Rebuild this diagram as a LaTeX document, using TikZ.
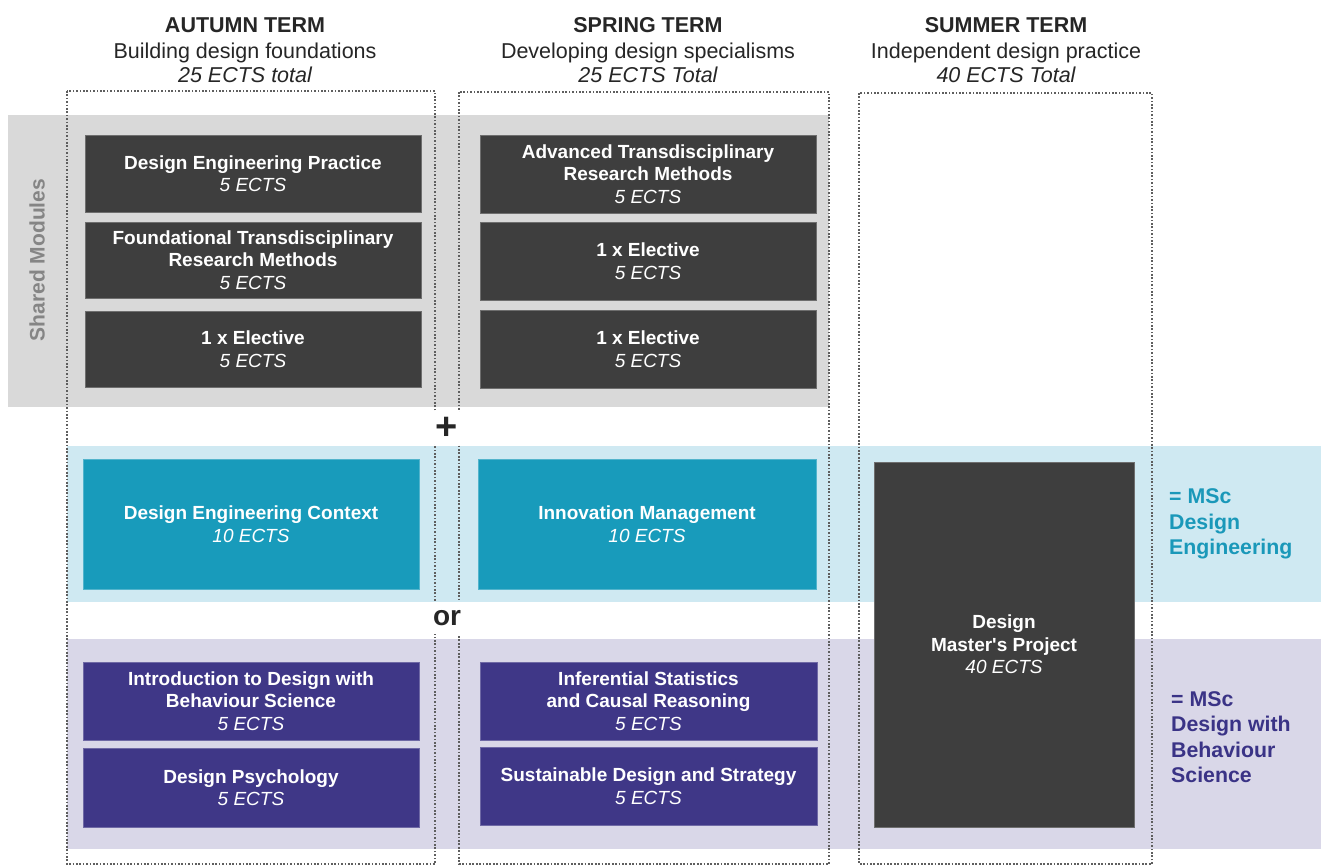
\documentclass[tikz,border=0pt]{standalone}
\usepackage{fontspec}
\setmainfont{Liberation Sans}
\definecolor{dk}{HTML}{3E3E3E}
\definecolor{grayband}{HTML}{D9D9D9}
\definecolor{teal}{HTML}{189BBB}
\definecolor{blueband}{HTML}{CFE9F2}
\definecolor{purp}{HTML}{3F3787}
\definecolor{purpband}{HTML}{D9D7E8}
\definecolor{dotc}{HTML}{5E5E5E}
\definecolor{hd}{HTML}{262626}
\definecolor{sharedc}{HTML}{858585}
\definecolor{tealtxt}{HTML}{1A98B9}
\definecolor{purptxt}{HTML}{3A3386}
\newcommand\ectsl[1]{{\mdseries\itshape #1}}
\begin{document}
\begin{tikzpicture}[x=1pt,y=-1pt,
  dotframe/.style={draw=dotc, line width=2pt, dash pattern=on 1.7pt off 1.7pt},
  module/.style={inner sep=0pt, align=center, text=white, draw=#1!75!white, line width=0.8pt, fill=#1,
    font=\fontsize{19}{22.5}\selectfont\bfseries},
  band/.style={fill=#1, draw=none},
  headA/.style={anchor=base, text=hd, font=\fontsize{21.5}{25}\selectfont\bfseries},
  headB/.style={anchor=base, text=hd, font=\fontsize{21.5}{25}\selectfont},
  headC/.style={anchor=base, text=hd, font=\fontsize{21.5}{25}\selectfont\itshape},
  joiner/.style={fill=white, inner sep=0pt, minimum width=36pt, minimum height=32pt, text=hd},
  degree/.style={anchor=west, align=left, inner sep=0pt, font=\fontsize{21.3}{25.5}\selectfont\bfseries}
]
\useasboundingbox (0,0) rectangle (1321,866);
\fill[white] (0,0) rectangle (1321,866);

% bands
\path[band=grayband] (8,115) rectangle (829,407);
\path[band=blueband] (67,446) rectangle (1321,602);
\path[band=purpband] (67,639) rectangle (1321,849);

% term frames
\draw[dotframe] (67,91) rectangle (435,864);
\draw[dotframe] (459,92) rectangle (829,864);
\draw[dotframe] (859,93) rectangle (1152,864);

% headers
\node[headA] (ha1) at (245,33) {AUTUMN TERM};
\node[headB] (ha2) at (245,59) {Building design foundations};
\node[headC] (ha3) at (245,83) {25 ECTS total};
\node[headA] (hs1) at (648,33) {SPRING TERM};
\node[headB] (hs2) at (648,59) {Developing design specialisms};
\node[headC] (hs3) at (648,83) {25 ECTS Total};
\node[headA] (hu1) at (1006,33) {SUMMER TERM};
\node[headB] (hu2) at (1006,59) {Independent design practice};
\node[headC] (hu3) at (1006,83) {40 ECTS Total};

% shared label
\node[rotate=90, text=sharedc, font=\fontsize{21}{24}\selectfont\bfseries] (shared) at (37,260) {Shared Modules};

% autumn shared modules
\node[module=dk, minimum width=336pt, minimum height=77pt] (a1) at (253,173.5)
  {Design Engineering Practice\\\ectsl{5 ECTS}};
\node[module=dk, minimum width=336pt, minimum height=76pt] (a2) at (253,260)
  {Foundational Transdisciplinary\\Research Methods\\\ectsl{5 ECTS}};
\node[module=dk, minimum width=336pt, minimum height=76pt] (a3) at (253,349)
  {1 x Elective\\\ectsl{5 ECTS}};

% spring shared modules
\node[module=dk, minimum width=336pt, minimum height=78pt] (s1) at (648,174)
  {Advanced Transdisciplinary\\Research Methods\\\ectsl{5 ECTS}};
\node[module=dk, minimum width=336pt, minimum height=78pt] (s2) at (648,261)
  {1 x Elective\\\ectsl{5 ECTS}};
\node[module=dk, minimum width=336pt, minimum height=78pt] (s3) at (648,349)
  {1 x Elective\\\ectsl{5 ECTS}};

% design engineering
\node[module=teal, minimum width=336pt, minimum height=130pt] (te1) at (251,524)
  {Design Engineering Context\\\ectsl{10 ECTS}};
\node[module=teal, minimum width=338pt, minimum height=130pt] (te2) at (647,524)
  {Innovation Management\\\ectsl{10 ECTS}};

% behaviour science
\node[module=purp, minimum width=336pt, minimum height=78pt] (p1) at (251,701)
  {Introduction to Design with\\Behaviour Science\\\ectsl{5 ECTS}};
\node[module=purp, minimum width=336pt, minimum height=79pt] (p2) at (251,787.5)
  {Design Psychology\\\ectsl{5 ECTS}};
\node[module=purp, minimum width=337pt, minimum height=78pt] (p3) at (648.5,701)
  {Inferential Statistics\\and Causal Reasoning\\\ectsl{5 ECTS}};
\node[module=purp, minimum width=337pt, minimum height=78pt] (p4) at (648.5,786)
  {Sustainable Design and Strategy\\\ectsl{5 ECTS}};

% master's project
\node[module=dk, minimum width=260pt, minimum height=365pt] (mp) at (1004,644.5)
  {Design\\Master\textquotesingle s Project\\\ectsl{40 ECTS}};

% joiners
\node[joiner, font=\fontsize{38}{38}\selectfont\bfseries] (plus) at (447,428) {+};
\node[joiner, font=\fontsize{28}{30}\selectfont\bfseries] (or) at (447,618) {or};

% degree labels
\node[degree, text=tealtxt] (mscde) at (1169,524) {= MSc\\Design\\Engineering};
\node[degree, text=purptxt] (mscbs) at (1171,737) {= MSc\\Design with\\Behaviour\\Science};
\end{tikzpicture}
\end{document}
